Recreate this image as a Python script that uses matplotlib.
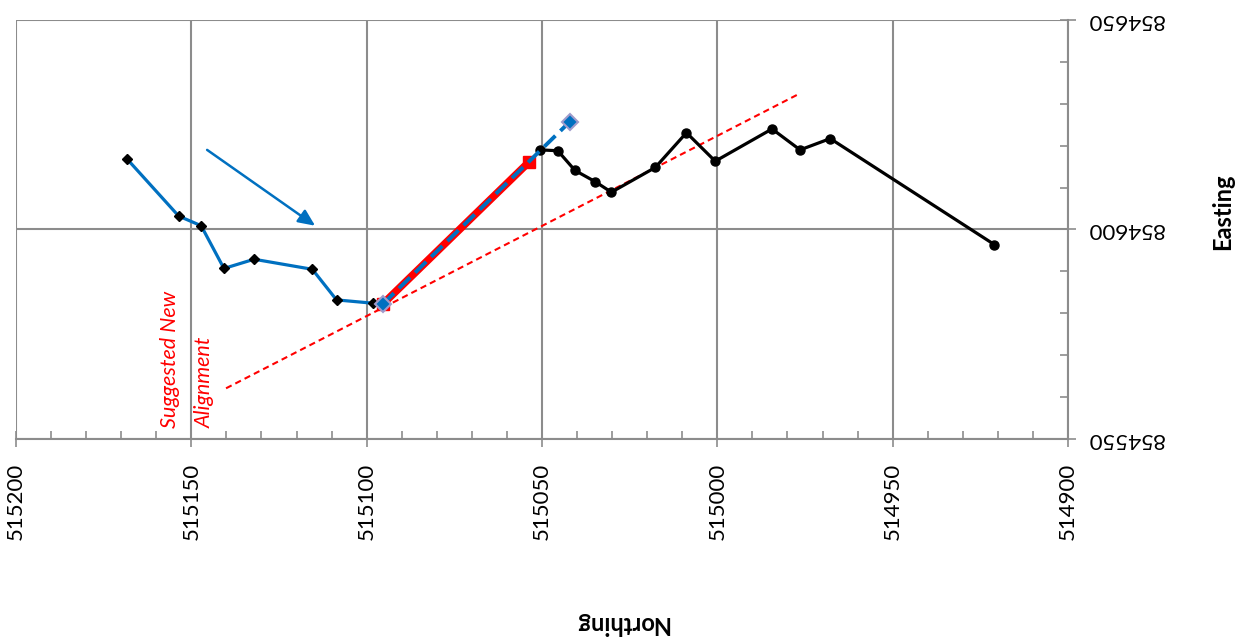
import matplotlib
matplotlib.use("Agg")
import matplotlib.pyplot as plt
from matplotlib.ticker import MultipleLocator

plt.rcParams["font.family"] = ["Lato", "DejaVu Sans"]

# Existing (blue) alignment
blue_n = [515168.3, 515153.6, 515147.2, 515140.7, 515132.1, 515115.5, 515108.6, 515098.1]
blue_e = [854616.8, 854603.2, 854600.9, 854590.7, 854592.9, 854590.5, 854583.2, 854582.4]

# Existing (black) alignment
black_n = [515050.5, 515045.5, 515040.6, 515034.8, 515030.2, 515017.7, 515008.8,
           515000.6, 514984.4, 514976.4, 514967.8, 514921.0]
black_e = [854619.0, 854618.8, 854614.1, 854611.4, 854608.9, 854614.8, 854623.1,
           854616.3, 854624.0, 854619.0, 854621.7, 854596.4]

# Red connecting segment
red_n = [515095.4, 515053.6]
red_e = [854582.2, 854616.2]

# Blue dashed extension
ext_n = [515095.4, 515042.1]
ext_e = [854582.2, 854625.7]

# Suggested new alignment (thin red dashed)
sugg_n = [515140.1, 514976.4]
sugg_e = [854562.1, 854632.5]

# Direction arrow
arrow_start = (515145.5, 854619.0)
arrow_end = (515114.7, 854600.9)

x_ticks = [515200, 515150, 515100, 515050, 515000, 514950, 514900]
y_ticks = [854550, 854600, 854650]

BLUE = "#0070C0"
GRID = "#8c8c8c"

fig = plt.figure(figsize=(12.41, 6.42), dpi=100)
ax = fig.add_axes([16/1241, 1-439/642, (1068-16)/1241, (439-20)/642])

ax.plot(sugg_n, sugg_e, color="red", lw=1.5, ls=(0, (3, 2)), zorder=3)
ax.plot(blue_n, blue_e, color=BLUE, lw=2.3, marker="D", ms=5.5,
        mfc="black", mec="black", zorder=4)
ax.plot(black_n, black_e, color="black", lw=2.3, marker="o", ms=6.5,
        mfc="black", mec="black", zorder=4)
ax.plot(red_n, red_e, color="red", lw=5.5, marker="s", ms=8.5,
        mfc="red", mec="red", zorder=5)
ax.plot(ext_n, ext_e, color=BLUE, lw=2.8, ls=(0, (4, 1.8)), marker="D", ms=8,
        mfc=BLUE, mec="#a09ccc", mew=1.5, zorder=6)

ax.annotate("", xy=arrow_end, xytext=arrow_start,
            arrowprops=dict(arrowstyle="-|>,head_length=1.0,head_width=0.45",
                            color=BLUE, lw=1.8, shrinkA=0, shrinkB=0), zorder=6)

ax.text(515156.1, 854552.6, "Suggested New", rotation=90, ha="center", va="bottom",
        color="red", fontsize=15.5, style="italic")
ax.text(515146.1, 854552.6, "Alignment", rotation=90, ha="center", va="bottom",
        color="red", fontsize=15.5, style="italic")

ax.set_xlim(515200, 514900)
ax.set_ylim(854550, 854650)
ax.set_xticks(x_ticks)
ax.set_yticks(y_ticks)
ax.xaxis.set_minor_locator(MultipleLocator(10))
ax.yaxis.set_minor_locator(MultipleLocator(10))
ax.yaxis.tick_right()
ax.yaxis.set_label_position("right")

ax.grid(True, which="major", color=GRID, lw=1.5)
ax.set_axisbelow(True)
for s in ["left", "top"]:
    ax.spines[s].set_visible(False)
for s in ["bottom", "right"]:
    ax.spines[s].set_color(GRID)
    ax.spines[s].set_linewidth(1.5)

ax.tick_params(axis="both", which="major", direction="inout", length=12, width=1.2, color=GRID)
ax.tick_params(axis="both", which="minor", direction="in", length=6, width=1.2, color=GRID)
ax.tick_params(axis="x", which="major", pad=11)
ax.tick_params(axis="y", which="major", pad=7)
ax.set_xticklabels([str(v) for v in x_ticks], rotation=90, va="top", ha="center",
                   fontsize=16)
ax.set_yticklabels([str(v) for v in y_ticks], rotation=180, va="center", ha="left",
                   fontsize=16)

ax.set_xlabel("Northing", fontsize=17, fontweight="bold", rotation=180,
              va="center", ha="center")
ax.xaxis.set_label_coords((622-16)/1052, (439-623)/419)
ax.set_ylabel("Easting", fontsize=17, fontweight="bold", rotation=90,
              va="center", ha="center")
ax.yaxis.set_label_coords((1223-16)/1052, (439-212)/419)

fig.savefig("out.png", dpi=100)
